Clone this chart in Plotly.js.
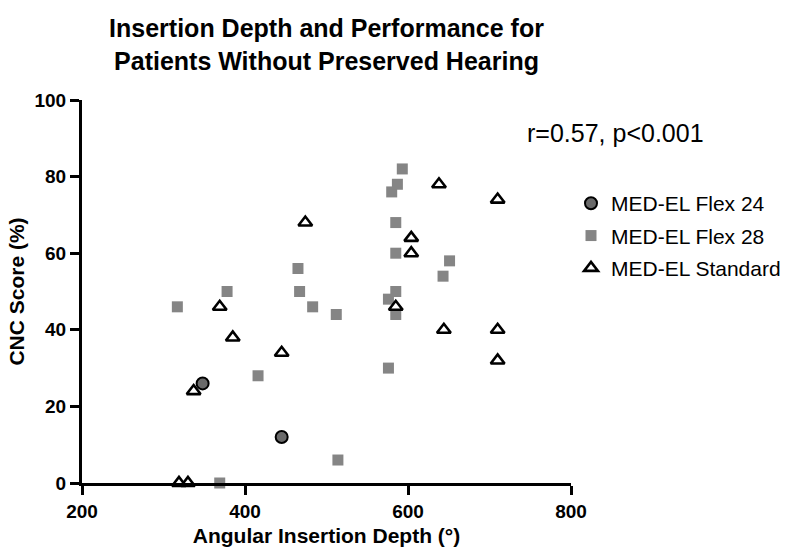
<!DOCTYPE html>
<html>
<head>
<meta charset="utf-8">
<script src="https://cdn.plot.ly/plotly-3.0.1.min.js"></script>
<style>html,body{margin:0;padding:0;background:#fff;}#chart{width:800px;height:551px;}</style>
</head>
<body>
<div id="chart"></div>
<script>
// Data
const flex24Depth = [348, 445];
const flex24Score = [26, 12];

const flex28Depth = [317, 378, 369, 416, 465, 467, 483, 512, 514, 576, 576, 585, 585, 585, 585, 580, 587, 593, 643, 651];
const flex28Score = [46, 50, 0, 28, 56, 50, 46, 44, 6, 30, 48, 50, 44, 60, 68, 76, 78, 82, 54, 58];

const standardDepth = [319, 330, 337, 369, 385, 445, 474, 585, 604, 604, 638, 644, 710, 710, 710];
const standardScore = [0, 0, 24, 46, 38, 34, 68, 46, 64, 60, 78, 40, 74, 40, 32];

const xTicks = [200, 400, 600, 800];
const yTicks = [0, 20, 40, 60, 80, 100];

const FONT = '"Liberation Sans", Arial, Helvetica, sans-serif';

const traces = [
  {
    x: flex24Depth, y: flex24Score, type: 'scatter', mode: 'markers',
    name: 'MED-EL Flex 24', legendgroup: 'a', cliponaxis: false,
    marker: {symbol: 'circle', size: 12, color: '#6a6a6a', line: {color: '#000', width: 2}}
  },
  {
    x: flex28Depth, y: flex28Score, type: 'scatter', mode: 'markers',
    name: 'MED-EL Flex 28', legendgroup: 'b', cliponaxis: false,
    marker: {symbol: 'square', size: 11, color: '#858585', line: {width: 0}}
  },
  {
    x: standardDepth, y: standardScore, type: 'scatter', mode: 'markers',
    name: 'MED-EL Standard', legendgroup: 'c', cliponaxis: false,
    marker: {symbol: 'triangle-up-open', size: 12, color: '#000', line: {color: '#000', width: 2.6}}
  }
];

const layout = {
  width: 800, height: 551,
  paper_bgcolor: '#fff', plot_bgcolor: '#fff',
  margin: {l: 82, r: 229, t: 100, b: 68},
  font: {family: FONT, color: '#000'},
  title: {
    text: 'Insertion Depth and Performance for<br>Patients Without Preserved Hearing',
    font: {family: FONT, size: 25, weight: 'bold', color: '#000'},
    x: 0.5, xref: 'paper', xanchor: 'center',
    y: 0.932, yref: 'container', yanchor: 'middle'
  },
  xaxis: {
    range: [200, 800], tickvals: xTicks, ticktext: xTicks.map(String),
    showgrid: false, zeroline: false,
    showline: true, linecolor: '#000', linewidth: 3,
    ticks: 'outside', ticklen: 9, tickwidth: 3, tickcolor: '#000',
    tickfont: {family: FONT, size: 19, weight: 'bold', color: '#000'},
    title: {text: 'Angular Insertion Depth (°)', font: {family: FONT, size: 21, weight: 'bold', color: '#000'}, standoff: 8}
  },
  yaxis: {
    range: [0, 100], tickvals: yTicks, ticktext: yTicks.map(String),
    showgrid: false, zeroline: false,
    showline: true, linecolor: '#000', linewidth: 3,
    ticks: 'outside', ticklen: 9, tickwidth: 3, tickcolor: '#000',
    tickfont: {family: FONT, size: 19, weight: 'bold', color: '#000'},
    title: {text: 'CNC Score (%)', font: {family: FONT, size: 21, weight: 'bold', color: '#000'}, standoff: 5}
  },
  legend: {
    x: 1.0, xanchor: 'left', y: 0.783, yanchor: 'top',
    font: {family: FONT, size: 21, color: '#000'},
    tracegroupgap: 2, bgcolor: 'rgba(0,0,0,0)'
  },
  annotations: [
    {
      text: 'r=0.57, p<0.001', xref: 'paper', yref: 'paper',
      x: 1.09, y: 0.915, xanchor: 'center', yanchor: 'middle', showarrow: false,
      font: {family: FONT, size: 25, color: '#000'}
    }
  ],
  showlegend: true
};

Plotly.newPlot('chart', traces, layout, {displayModeBar: false, staticPlot: true});
</script>
</body>
</html>
